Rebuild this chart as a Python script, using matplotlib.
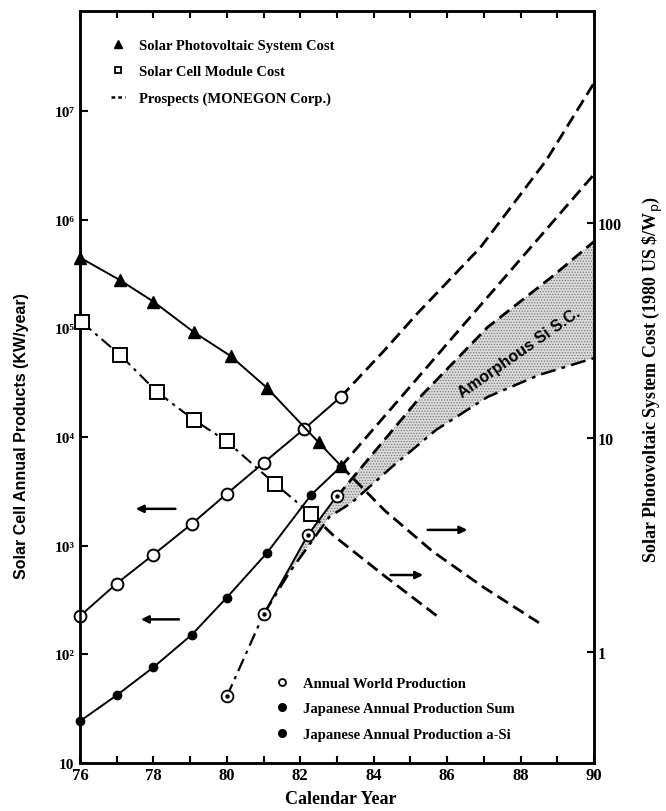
import numpy as np
import matplotlib
matplotlib.use("Agg")
import matplotlib.pyplot as plt
from matplotlib.lines import Line2D
from matplotlib.ticker import NullLocator

SERIF = ["Liberation Serif", "DejaVu Serif"]
SANS = ["Liberation Sans", "DejaVu Sans"]

# --- data (years as fractional calendar years) ---
# right axis: photovoltaic system / module cost (1980 US $/Wp)
sys_yr = [76.0, 77.1, 78.0, 79.1, 80.1, 81.1, 82.5, 83.1]
sys_cost = [69, 54, 43, 31, 24, 17, 9.5, 7.4]
mod_yr = [76.05, 77.1, 78.1, 79.1, 80.0, 81.3, 82.3]
mod_cost = [34.5, 24.2, 16.3, 12.1, 9.6, 6.1, 4.4]
sys_prosp_yr = [83.1, 84.3, 85.6, 87.0, 88.5]
sys_prosp = [7.4, 4.57, 2.95, 2.0, 1.37]
mod_prosp_yr = [82.3, 82.9, 84.3, 85.8]
mod_prosp = [4.4, 3.5, 2.26, 1.44]

# left axis: production (kW/year)
world_yr = [76.0, 77.0, 78.0, 79.05, 80.0, 81.0, 82.1, 83.1]
world = [225, 448, 826, 1590, 3000, 5770, 11800, 23300]
world_prosp_yr = [83.1, 84.3, 85.2, 86.9, 88.7, 90.0]
world_prosp = [2.33e4, 6.3e4, 1.38e5, 5.5e5, 3.5e6, 1.8e7]
sum_yr = [76.0, 77.0, 78.0, 79.05, 80.0, 81.1, 82.3, 83.1]
jp_sum = [24.3, 42, 76, 152, 333, 863, 2940, 5300]
sum_prosp_yr = [83.1, 84.7, 86.4, 88.3, 90.0]
sum_prosp = [5.3e3, 2.23e4, 1.03e5, 5.66e5, 2.6e6]
asi_yr = [80.0, 81.0, 82.2, 83.0]
asi = [41, 233, 1240, 2880]
asi_hi_yr = [83.0, 85.3, 87.1, 88.9, 90.0]
asi_hi = [2820, 24000, 102000, 306000, 628000]
asi_lo_yr = [81.0, 81.7, 82.8, 83.4, 84.5, 85.7, 87.1, 88.5, 90.0]
asi_lo = [233, 565, 1850, 2480, 5310, 11600, 23300, 37100, 53100]

left_ticks = [10, 1e2, 1e3, 1e4, 1e5, 1e6, 1e7]
left_labels = ["10", "10²", "10³", "10⁴", "10⁵", "10⁶", "10⁷"]
right_ticks = [1, 10, 100]
right_labels = ["1", "10", "100"]

plt.rcParams["hatch.linewidth"] = 0.6

fig = plt.figure(figsize=(6.66, 8.12), dpi=100)
ax = fig.add_axes([0.1201, 0.0591, 0.7718, 0.9261])
ax.set_yscale("log")
ax.set_xlim(76, 90)
ax.set_ylim(10, 10 ** 7.918)

ax2 = ax.twinx()
ax2.set_yscale("log")
ax2.set_ylim(10 ** -0.517, 10 ** 2.988)

dash = (0, (4.5, 2.2))
dashdot = (0, (6, 2.5, 1.5, 2.5))

# amorphous Si band
band_x = np.concatenate([asi_yr[1:], asi_hi_yr[1:], asi_lo_yr[::-1]])
band_y = np.concatenate([asi[1:], asi_hi[1:], asi_lo[::-1]])
ax.fill(band_x, band_y, facecolor="#dcdcdc", edgecolor="#777777", hatch="......", lw=0, zorder=1)

# production curves
ax.plot(world_yr, world, "-", color="k", lw=1.4, marker="o", ms=8.5, mfc="white", mec="k", mew=1.4,
        clip_on=False, zorder=5)
ax.plot(world_prosp_yr, world_prosp, ls=dash, color="k", lw=2.0, zorder=3)
ax.plot(sum_yr, jp_sum, "-", color="k", lw=1.4, marker="o", ms=6, mfc="k", mec="k",
        clip_on=False, zorder=5)
ax.plot(sum_prosp_yr, sum_prosp, ls=dash, color="k", lw=2.0, zorder=3)
ax.plot(asi_yr[:2], asi[:2], ls=dashdot, color="k", lw=1.6, zorder=4)
ax.plot(asi_yr[1:], asi[1:], "-", color="k", lw=1.4, zorder=4)
ax.plot(asi_yr, asi, ls="none", marker="o", ms=8.5, mfc="white", mec="k", mew=1.3, zorder=5)
ax.plot(asi_yr, asi, ls="none", marker="o", ms=2.2, color="k", zorder=6)
ax.plot(asi_hi_yr, asi_hi, ls=dash, color="k", lw=2.0, zorder=3)
ax.plot(asi_lo_yr, asi_lo, ls=dashdot, color="k", lw=1.8, zorder=3)

# cost curves
ax2.plot(sys_yr, sys_cost, "-", color="k", lw=1.4, marker="^", ms=8.5, mfc="k", mec="k",
         clip_on=False, zorder=5)
ax2.plot(sys_prosp_yr, sys_prosp, ls=dash, color="k", lw=2.0, zorder=3)
ax2.plot(mod_yr, mod_cost, ls=dashdot, color="k", lw=1.5, marker="s", ms=9.5, mfc="white", mec="k",
         mew=1.4, clip_on=False, zorder=5)
ax2.plot(mod_prosp_yr, mod_prosp, ls=dash, color="k", lw=2.0, zorder=3)

ax.text(87.96, 10 ** 4.78, "Amorphous Si S.C.", rotation=35, rotation_mode="anchor",
        ha="center", va="center", fontsize=11.5, fontweight="bold", family=SANS, zorder=7)

# arrows showing which axis a curve belongs to
arrow = dict(arrowstyle="-|>", color="k", lw=1.8, mutation_scale=11)
ax.annotate("", xy=(0.103, 0.338), xytext=(0.191, 0.338), xycoords="axes fraction", arrowprops=arrow)
ax.annotate("", xy=(0.113, 0.191), xytext=(0.198, 0.191), xycoords="axes fraction", arrowprops=arrow)
ax.annotate("", xy=(0.759, 0.310), xytext=(0.671, 0.310), xycoords="axes fraction", arrowprops=arrow)
ax.annotate("", xy=(0.673, 0.250), xytext=(0.599, 0.250), xycoords="axes fraction", arrowprops=arrow)

# ticks
ax.set_xticks(range(76, 91, 2))
ax.set_xticks(range(77, 90, 2), minor=True)
ax.set_xticklabels([str(y) for y in range(76, 91, 2)], family=SERIF, fontweight="bold", fontsize=12)
ax.tick_params(axis="x", which="both", direction="in", top=True, length=5, width=1.5, pad=3)
ax.set_yticks(left_ticks)
ax.set_yticklabels(left_labels, family=SERIF, fontweight="bold", fontsize=11)
ax.yaxis.set_minor_locator(NullLocator())
ax.tick_params(axis="y", which="both", direction="in", length=6, width=1.5, pad=4)
ax2.set_yticks(right_ticks)
ax2.set_yticklabels(right_labels, family=SERIF, fontweight="bold", fontsize=11.5)
ax2.yaxis.set_minor_locator(NullLocator())
ax2.tick_params(axis="y", which="both", direction="in", length=5, width=1.5, pad=3)
for a in (ax, ax2):
    for s in a.spines.values():
        s.set_linewidth(1.8)

# legends
prop = dict(family=SERIF, weight="bold", size=10.5)
h_top = [Line2D([], [], ls="none", marker="^", color="k", ms=6),
         Line2D([], [], ls="none", marker="s", mfc="white", mec="k", mew=1.3, ms=5),
         Line2D([], [], ls=(0, (1.5, 1.2)), color="k", lw=1.8)]
leg1 = ax.legend(h_top, ["Solar Photovoltaic System Cost", "Solar Cell Module Cost",
                         "Prospects (MONEGON Corp.)"],
                 loc="upper left", bbox_to_anchor=(0.060, 0.963), frameon=False, prop=prop,
                 handlelength=1.0, handletextpad=0.9, labelspacing=0.9, borderpad=0, borderaxespad=0)
ax.add_artist(leg1)
h_bot = [Line2D([], [], ls="none", marker="o", mfc="white", mec="k", mew=1.3, ms=5),
         Line2D([], [], ls="none", marker="o", color="k", ms=5.5),
         Line2D([], [], ls="none", marker="o", color="k", ms=5.5)]
ax.legend(h_bot, ["Annual World Production", "Japanese Annual Production Sum",
                  "Japanese Annual Production a-Si"],
          loc="upper left", bbox_to_anchor=(0.379, 0.115), frameon=False, prop=prop,
          handlelength=1.0, handletextpad=0.9, labelspacing=0.85, borderpad=0, borderaxespad=0)

# axis titles
fig.text(22 / 666, 1 - 436 / 812, "Solar Cell Annual Products (KW/year)", rotation=90,
         ha="center", va="center", fontsize=11.5, fontweight="bold", family=SANS)
fig.text(653 / 666, 1 - 380 / 812, "Solar Photovoltaic System Cost (1980 US \\$/W$_{\\rm p}$)",
         rotation=90, ha="center", va="center", fontsize=13, fontweight="bold", family=SERIF)
fig.text(341 / 666, 1 - 800 / 812, "Calendar Year", ha="center", va="center",
         fontsize=13, fontweight="bold", family=SERIF)

fig.savefig("out.png", dpi=100, facecolor="white")
